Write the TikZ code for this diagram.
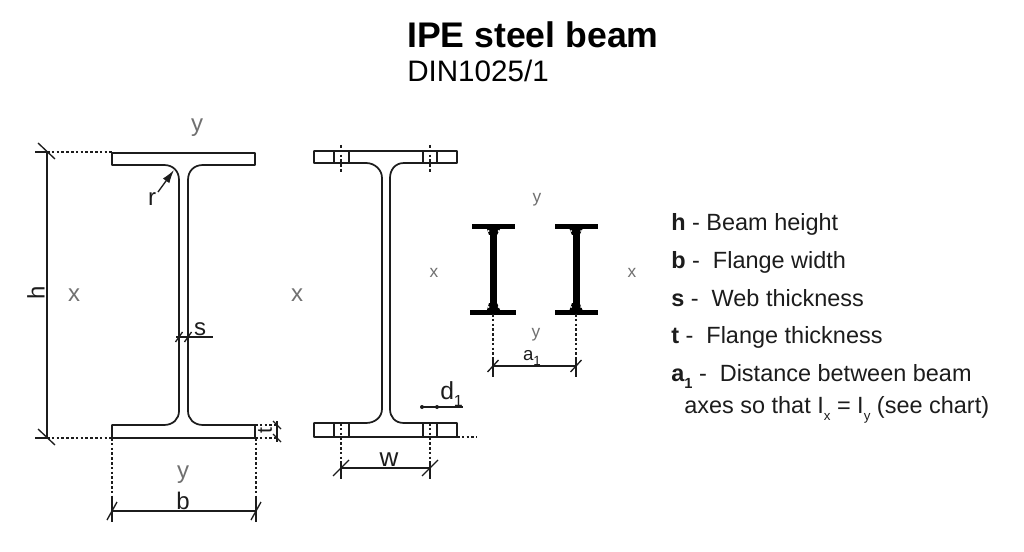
\documentclass[tikz,border=0pt]{standalone}
\usepackage{fontspec}
\setmainfont{Liberation Sans}
\usetikzlibrary{positioning,arrows.meta}
\definecolor{axis_grey}{HTML}{707070}
\definecolor{line_black}{HTML}{1c1c1c}
\tikzstyle{outline} = [draw=line_black, line width=1.3pt, line join=round]
\tikzstyle{dim} = [draw=line_black, line width=1pt]
\tikzstyle{dotline} = [draw=line_black, line width=1pt, dash pattern=on 2pt off 1.6pt]
\tikzstyle{solidbeam} = [fill=black, draw=none]
\tikzstyle{title} = [anchor=base west, inner sep=0pt, font=\fontsize{26.7}{27}\selectfont\bfseries]
\tikzstyle{subtitle} = [anchor=base west, inner sep=0pt, font=\fontsize{22.2}{22}\selectfont]
\tikzstyle{legend} = [anchor=base west, inner sep=0pt, font=\fontsize{17.6}{18}\selectfont, text=line_black]
\tikzstyle{label} = [inner sep=0pt, font=\fontsize{18}{18}\selectfont, text=line_black]
\tikzstyle{axis} = [inner sep=0pt, font=\fontsize{18}{18}\selectfont, text=axis_grey]
\tikzstyle{axis_small} = [axis, font=\fontsize{13}{13}\selectfont]
\newcommand{\lowsub}[2][10]{\raisebox{-0.3em}{\fontsize{#1}{#1}\selectfont #2}}
\newcommand{\slashtick}[1]{\draw [dim] (#1) ++(-5,9) -- ++(10,-18);}
\newcommand{\backtick}[1]{\draw [dim] (#1) ++(-9,-9) -- ++(17,16);}
\begin{document}
\begin{tikzpicture}[x=0.75pt, y=-0.75pt]
   \useasboundingbox (0,0) rectangle (1024,552);

   % Title
   \node at (407, 48) [title] (title) {IPE steel beam};
   \node at (407, 82) [subtitle] (subtitle) {DIN1025/1};

   % First beam
   \draw [outline] (112,153) -- (255,153) -- (255,165) -- (203,165)
      .. controls (194,165) and (188,171) .. (188,180) -- (188,411)
      .. controls (188,419) and (194,425) .. (203,425) -- (255,425) -- (255,438) -- (112,438) -- (112,425) -- (164,425)
      .. controls (173,425) and (179,419) .. (179,411) -- (179,180)
      .. controls (179,171) and (173,165) .. (164,165) -- (112,165) -- cycle;

   % Height
   \coordinate (h top) at (47,152);
   \coordinate (h bot) at (47,438);
   \draw [dim] (h top) -- (h bot);
   \backtick{h top}
   \backtick{h bot}
   \draw [dim] (35,152) -- (h top);
   \draw [dim] (35,438) -- (h bot);
   \draw [dotline] (h top) -- (112,152);
   \draw [dotline] (h bot) -- (112,438);
   \node at (36, 293) [label, rotate=90] (h label) {h};
   \node at (74, 295) [axis] (x left) {x};
   \node at (297, 295) [axis] (x mid) {x};
   \node at (197, 128) [axis] (y top) {y};
   \node at (183, 475) [axis] (y bot) {y};

   % Width
   \coordinate (b left) at (112,511);
   \coordinate (b right) at (256,511);
   \draw [dotline] (112,438) -- (112,498);
   \draw [dotline] (256,438) -- (256,498);
   \draw [dim] (112,498) -- (112,522);
   \draw [dim] (256,498) -- (256,522);
   \draw [dim] (b left) -- (b right);
   \slashtick{b left}
   \slashtick{b right}
   \node at (183, 501) [label] (b label) {b};

   % Radius
   \node at (152, 199) [label] (r label) {r};
   \coordinate (r tip) at (174,170);
   \draw [dim, -{Latex[length=10pt, width=6pt]}] (158,192) -- (r tip);

   % Web thickness
   \coordinate (s left) at (179,337);
   \coordinate (s right) at (213,337);
   \draw [dim] (176,337) -- (s right);
   \draw [dim] (s left) ++(-3.5,5) -- ++(7,-10);
   \draw [dim] (188,337) ++(-3.5,5) -- ++(7,-10);
   \node at (200, 329) [label] (s label) {s};

   % Flange thickness
   \coordinate (t top) at (277,425);
   \coordinate (t bot) at (277,438);
   \draw [outline] (223,425) -- (255,425);
   \draw [dotline] (255,425) -- (t top);
   \draw [dotline] (255,438) -- (t bot);
   \draw [dim] (277,421) -- (277,442);
   \draw [dim] (t top) ++(-4,-4) -- ++(8,8);
   \draw [dim] (t bot) ++(-4,-4) -- ++(8,8);
   \node at (265, 431) [label, rotate=90, font=\fontsize{16}{16}\selectfont] (t label) {t};

   % Second beam
   \draw [outline] (314,151) -- (457,151) -- (457,163) -- (404,163)
      .. controls (395,163) and (390,170) .. (390,178) -- (390,409)
      .. controls (390,417) and (395,423) .. (404,423) -- (457,423) -- (457,437) -- (314,437) -- (314,423) -- (366,423)
      .. controls (375,423) and (382,417) .. (382,409) -- (382,178)
      .. controls (382,170) and (375,163) .. (366,163) -- (314,163) -- cycle;

   % Holes
   \draw [outline] (334,151) -- (334,163);
   \draw [outline] (349,151) -- (349,163);
   \draw [outline] (423,151) -- (423,163);
   \draw [outline] (437,151) -- (437,163);
   \draw [outline] (334,423) -- (334,437);
   \draw [outline] (349,423) -- (349,437);
   \draw [outline] (423,423) -- (423,437);
   \draw [outline] (437,423) -- (437,437);
   \draw [dotline] (341,145) -- (341,173);
   \draw [dotline] (430,145) -- (430,173);
   \draw [dotline] (341,423) -- (341,461);
   \draw [dotline] (430,423) -- (430,461);
   \draw [dotline] (457,437) -- (477,437);

   % Hole spacing
   \coordinate (w left) at (341,468);
   \coordinate (w right) at (430,468);
   \draw [dim] (341,461) -- (341,479);
   \draw [dim] (430,461) -- (430,479);
   \draw [dim] (w left) -- (w right);
   \draw [dim] (w left) ++(-8,8) -- ++(16,-16);
   \draw [dim] (w right) ++(-8,8) -- ++(16,-16);
   \node at (389, 460) [label, font=\fontsize{19.5}{19.5}\selectfont] (w label) {w};

   % Hole diameter
   \coordinate (d left) at (421,407);
   \coordinate (d right) at (463,407);
   \draw [dim] (d left) -- (d right);
   \fill [line_black] (422,407) circle (2) (437,407) circle (2);
   \node at (440, 399) [label, anchor=base west, font=\fontsize{18.5}{18.5}\selectfont] (d label) {d\lowsub[12]{1}};

   % Paired beams
   \fill [solidbeam] (471.5,224) rectangle (514.5,229);
   \fill [solidbeam] (470,309.5) rectangle (516,314.5);
   \fill [solidbeam] (489.5,229) rectangle (496.5,310);
   \fill [solidbeam] (487,229) -- (500,229) -- (497,235) -- (489,235) -- cycle;
   \fill [solidbeam] (489,303) -- (497,303) -- (500,310) -- (487,310) -- cycle;
   \fill [solidbeam] (554.5,224) rectangle (597.5,229);
   \fill [solidbeam] (554.5,309.5) rectangle (597.5,314.5);
   \fill [solidbeam] (572.5,229) rectangle (579.5,310);
   \fill [solidbeam] (569.5,229) -- (582.5,229) -- (579.5,235) -- (572,235) -- cycle;
   \fill [solidbeam] (572,303) -- (579.5,303) -- (582.5,310) -- (569.5,310) -- cycle;
   \fill [white] (488.5,231) circle (1) (498.5,231) circle (1) (488.5,307) circle (1) (498.5,307) circle (1);
   \fill [white] (571,231) circle (1) (581,231) circle (1) (571,307) circle (1) (581,307) circle (1);
   \node at (537, 200) [axis_small] (y pair top) {y};
   \node at (536, 335) [axis_small] (y pair bot) {y};
   \node at (434, 273) [axis_small] (x pair left) {x};
   \node at (632, 273) [axis_small] (x pair right) {x};

   % Beam distance
   \coordinate (a left) at (493,366);
   \coordinate (a right) at (576,366);
   \draw [dotline] (493,314) -- (493,358);
   \draw [dotline] (576,314) -- (576,358);
   \draw [dim] (493,358) -- (493,377);
   \draw [dim] (576,358) -- (576,377);
   \draw [dim] (a left) -- (a right);
   \draw [dim] (a left) ++(-5.5,6) -- ++(11,-12);
   \draw [dim] (a right) ++(-5.5,6) -- ++(11,-12);
   \node at (532, 360) [axis_small, anchor=base, text=line_black, font=\fontsize{14}{14}\selectfont] (a label) {a\lowsub{1}};

   % Legend
   \node at (671, 230.5) [legend] (h text) {\textbf{h} - Beam height};
   \node at (671, 268) [legend] (b text) {\textbf{b} -\ \ Flange width};
   \node at (671, 306) [legend] (s text) {\textbf{s} -\ \ Web thickness};
   \node at (671, 343.5) [legend] (t text) {\textbf{t} -\ \ Flange thickness};
   \node at (671, 381) [legend] (a text) {\textbf{a\lowsub[11]{1}} -\ \ Distance between beam};
   \node at (684, 413) [legend] (a text cont) {axes so that I\lowsub{x} = I\lowsub{y} (see chart)};
\end{tikzpicture}
\end{document}
